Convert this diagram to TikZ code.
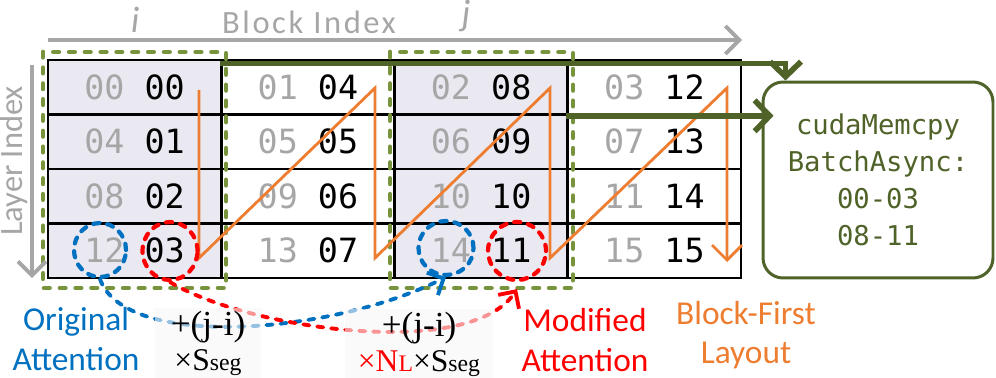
\documentclass[tikz,border=0pt]{standalone}
\usepackage{fontspec}
\setmainfont{Carlito}
\setmonofont{DejaVu Sans Mono}
\newfontfamily\eqfont{Liberation Serif}
\newfontfamily\axisfont[LetterSpace=8]{Carlito}
\usetikzlibrary{arrows.meta,shapes.geometric}

\definecolor{cellshade}{RGB}{234,232,241}
\definecolor{idxgray}{RGB}{166,166,166}
\definecolor{grpgreen}{RGB}{119,147,60}
\definecolor{copygreen}{RGB}{79,98,40}
\definecolor{orderorange}{RGB}{237,125,49}
\definecolor{attblue}{RGB}{0,112,192}
\definecolor{attred}{RGB}{255,0,0}

\newcommand{\gidx}[1]{\textcolor{idxgray}{#1}}
\newcommand{\subtx}[1]{{\fontsize{13.5}{13}\selectfont #1}}

\tikzset{
  cell/.style={draw=black, line width=1.5pt, minimum width=3.465cm, minimum height=1.09cm, inner sep=0pt, font=\fontsize{19}{22}\ttfamily},
  shadecell/.style={cell, fill=cellshade},
  blankcell/.style={cell, fill=white},
  grpbox/.style={draw=grpgreen, line width=2.8pt, line cap=round, dash pattern=on 3pt off 6pt},
  copyarrow/.style={draw=copygreen, line width=3.2pt, -{Straight Barb[length=0.3cm,width=0.62cm]}},
  axisarrow/.style={draw=idxgray, line width=2.2pt, -{Straight Barb[length=0.28cm,width=0.56cm]}},
  orderline/.style={draw=orderorange, line width=1.6pt, line join=miter, -{Straight Barb[length=0.3cm,width=0.6cm]}},
  oval/.style={ellipse, draw, line width=2.4pt, line cap=round, dash pattern=on 3.5pt off 4.5pt, inner sep=0pt},
  attcurve/.style={line width=2.2pt, line cap=round, dash pattern=on 3.5pt off 4.5pt, -{Straight Barb[length=0.25cm,width=0.5cm]}},
  labbox/.style={fill=black!3, fill opacity=0.6, text opacity=1, inner sep=0pt, minimum height=1.4cm, align=center, font=\eqfont\fontsize{18}{20}\selectfont},
  note/.style={align=center, inner sep=0pt, font=\fontsize{19}{22.5}\selectfont}
}

\begin{document}
\begin{tikzpicture}[x=0.02cm,y=-0.02cm]
\useasboundingbox (0,0) rectangle (996,378);

\node[shadecell] (c0-0) at (134.6,87.25) {\gidx{00} 00};
\node[blankcell] (c0-1) at (307.9,87.25) {\gidx{01} 04};
\node[shadecell] (c0-2) at (481.1,87.25) {\gidx{02} 08};
\node[blankcell] (c0-3) at (654.4,87.25) {\gidx{03} 12};
\node[shadecell] (c1-0) at (134.6,141.75) {\gidx{04} 01};
\node[blankcell] (c1-1) at (307.9,141.75) {\gidx{05} 05};
\node[shadecell] (c1-2) at (481.1,141.75) {\gidx{06} 09};
\node[blankcell] (c1-3) at (654.4,141.75) {\gidx{07} 13};
\node[shadecell] (c2-0) at (134.6,196.25) {\gidx{08} 02};
\node[blankcell] (c2-1) at (307.9,196.25) {\gidx{09} 06};
\node[shadecell] (c2-2) at (481.1,196.25) {\gidx{10} 10};
\node[blankcell] (c2-3) at (654.4,196.25) {\gidx{11} 14};
\node[shadecell] (c3-0) at (134.6,250.75) {\gidx{12} 03};
\node[blankcell] (c3-1) at (307.9,250.75) {\gidx{13} 07};
\node[shadecell] (c3-2) at (481.1,250.75) {\gidx{14} 11};
\node[blankcell] (c3-3) at (654.4,250.75) {\gidx{15} 15};

\draw[grpbox] (43,52) rectangle (226,288);
\draw[grpbox] (390,52) rectangle (573,288);

\draw[orderline] (199,90) -- (199,258) -- (375,88) -- (375,258) -- (550,88) -- (550,258) -- (727,88) -- (727,262);

\node[text=idxgray, font=\fontsize{21}{22}\itshape] (iname) at (135,20) {i};
\node[text=idxgray, font=\fontsize{21}{22}\itshape] (jname) at (466,16) {j};
\node[text=idxgray, font=\axisfont\fontsize{18.5}{22}\selectfont] (blockidx) at (309,22) {Block Index};
\node[text=idxgray, font=\fontsize{18.5}{22}\selectfont, rotate=90] (layeridx) at (14,161) {Layer Index};
\coordinate (bstart) at (48,40);
\coordinate (bend) at (742,40);
\coordinate (lstart) at (32,65);
\coordinate (lend) at (32,278);
\draw[axisarrow] (bstart) -- (bend);
\draw[axisarrow] (lstart) -- (lend);

\node[oval, draw=attblue, minimum width=1.04cm, minimum height=1.08cm] (o12) at (100,250) {};
\node[oval, draw=attred, minimum width=1.1cm, minimum height=1.16cm] (o03) at (170,251) {};
\node[oval, draw=attblue, minimum width=1.1cm, minimum height=1.08cm] (o14) at (446,248) {};
\node[oval, draw=attred, minimum width=1.16cm, minimum height=1.16cm] (o11) at (517,251) {};

\draw[attcurve, attblue] (o12.south) .. controls (125,350) and (330,335) .. (o14.south);
\draw[attcurve, attred] (o03.south) .. controls (250,330) and (470,360) .. ([yshift=-0.14cm]o11.south);

\node[labbox, minimum width=2.14cm] (shift1) at (208,343) {{\fontsize{20}{20}\selectfont +(j-i)}\\×S\subtx{seg}};
\node[labbox, minimum width=2.96cm] (shift2) at (419,344) {{\fontsize{20}{20}\selectfont +(j-i)}\\\textcolor{attred}{×N\subtx{L}}×S\subtx{seg}};

\node[note, text=attblue] (orig) at (76,339) {Original\\Attention};
\node[note, text=attred] (modi) at (585,340) {Modified\\Attention};
\node[note, text=orderorange] (order) at (746,335) {Block-First\\Layout};

\node[draw=copygreen, line width=1.7pt, rounded corners=0.4cm, minimum width=4.6cm, minimum height=3.92cm, align=center, text=copygreen, font=\fontsize{15.5}{21}\ttfamily] (mem) at (878,180) {cudaMemcpy\\BatchAsync:\\00-03\\08-11};

\draw[copyarrow] ([yshift=-0.1cm]c0-1.north west) -| ([xshift=0.48cm]mem.north west);
\draw[copyarrow] (c0-3.south west) -- ([xshift=0.24cm]mem.west |- c0-3.south west);
\end{tikzpicture}
\end{document}
